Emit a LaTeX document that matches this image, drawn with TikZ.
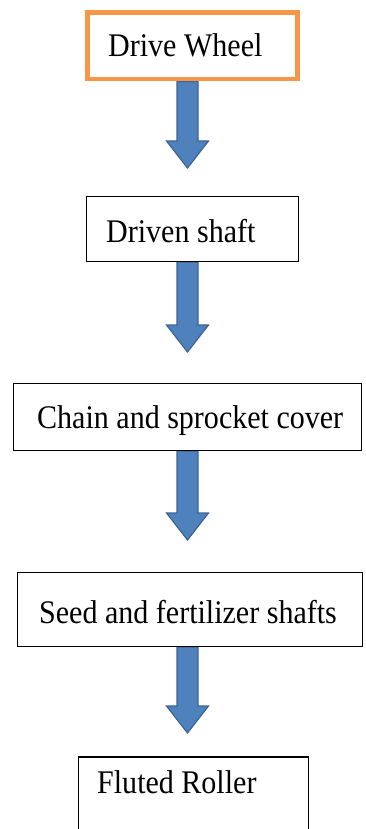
\documentclass[tikz,border=0pt]{standalone}
\usepackage{fontspec}
\setmainfont{Liberation Serif}[FakeStretch=0.91]
\usetikzlibrary{calc}
\definecolor{arrfill}{HTML}{4F81BD}
\definecolor{arrdraw}{HTML}{3C6494}
\definecolor{orangeb}{HTML}{F79646}
\newcommand\blockarrow[2]{%
  \draw[barrow] ($(#1 -| #2)+(-10.5,0)$) -- ($(#2)+(-10.5,-27)$) -- ($(#2)+(-21,-27)$) -- (#2)
    -- ($(#2)+(21,-27)$) -- ($(#2)+(10.5,-27)$) -- ($(#1 -| #2)+(10.5,0)$) -- cycle;}
\begin{document}
\begin{tikzpicture}[x=1pt,y=-1pt,
  box/.style={draw=black, line width=1.3pt, fill=white, inner sep=0pt},
  obox/.style={draw=orangeb, line width=4.5pt, fill=white, inner sep=0pt},
  lbl/.style={font=\fontsize{33}{36}\selectfont, inner sep=0pt, anchor=base west, text=black},
  barrow/.style={fill=arrfill, draw=arrdraw, line width=1.2pt, line join=miter}]
\clip (0,0) rectangle (366,829);
\fill[white] (0,0) rectangle (366,829);

% arrow tips
\coordinate (e1) at (187.5,168);
\coordinate (e2) at (187.5,352);
\coordinate (e3) at (187.5,540);
\coordinate (e4) at (187.5,733);

% boxes (positions only, drawn after arrows)
\path (192.5,45.75) coordinate (c1);
\path (192.5,229) coordinate (c2);
\path (187.5,417) coordinate (c3);
\path (190,609.5) coordinate (c4);

\coordinate (s1) at (192.5,81.5);
\coordinate (s2) at (192.5,262);
\coordinate (s3) at (187.5,451);
\coordinate (s4) at (190,647);

\blockarrow{s1}{e1}
\blockarrow{s2}{e2}
\blockarrow{s3}{e3}
\blockarrow{s4}{e4}

\node[obox, minimum width=210pt, minimum height=66.5pt] (b1) at (c1) {};
\node[box, minimum width=212pt, minimum height=65pt] (b2) at (c2) {};
\node[box, minimum width=348pt, minimum height=67pt] (b3) at (c3) {};
\node[box, minimum width=345pt, minimum height=74pt] (b4) at (c4) {};
\node[box, minimum width=230pt, minimum height=90pt] (b5) at (193.5,802) {};

\node[lbl] (t1) at (108,57) {Drive Wheel};
\node[lbl] (t2) at (106,242) {Driven shaft};
\node[lbl] (t3) at (37,428) {Chain and sprocket cover};
\node[lbl] (t4) at (39,623) {Seed and fertilizer shafts};
\node[lbl] (t5) at (97,793) {Fluted Roller};
\end{tikzpicture}
\end{document}
